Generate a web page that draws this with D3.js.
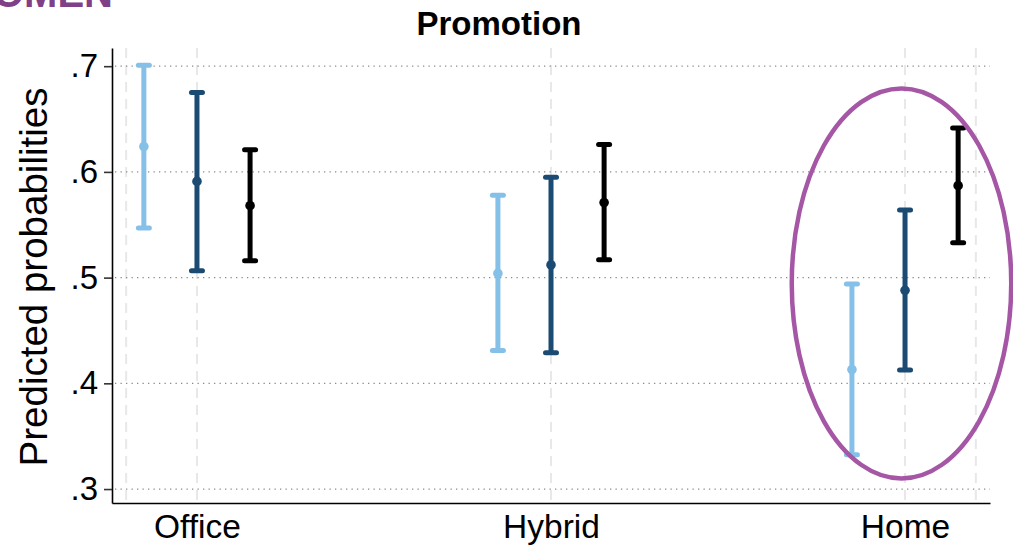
<!DOCTYPE html>
<html>
<head>
<meta charset="utf-8">
<script src="https://cdn.jsdelivr.net/npm/d3@7"></script>
<style>
  html, body { margin: 0; padding: 0; background: #fff; }
  svg { display: block; font-family: "Liberation Sans", Arial, Helvetica, sans-serif; }
</style>
</head>
<body>
<svg id="chart" width="1013" height="554"></svg>
<script>
// Work arrangement categories (x positions 1, 2, 3)
const categories = ["Office", "Hybrid", "Home"];
const categoryPos = [1, 2, 3];

// Predicted probabilities with confidence bounds, one array per group
const lightEst = [0.624, 0.504, 0.413];
const lightLo  = [0.547, 0.431, 0.3325];
const lightHi  = [0.701, 0.578, 0.494];

const darkEst = [0.591, 0.512, 0.488];
const darkLo  = [0.5065, 0.429, 0.4126];
const darkHi  = [0.675, 0.595, 0.564];

const blackEst = [0.568, 0.571, 0.587];
const blackLo  = [0.516, 0.517, 0.533];
const blackHi  = [0.621, 0.626, 0.6415];

// Y-axis tick values and vertical reference lines
const yTicks = [0.3, 0.4, 0.5, 0.6, 0.7];
const xGridVals = [0.8, 1, 2, 3, 3.2];

const series = [
  { est: lightEst, lo: lightLo, hi: lightHi, offset: -0.15, color: "#85c0e8" },
  { est: darkEst,  lo: darkLo,  hi: darkHi,  offset: 0,     color: "#1b4a72" },
  { est: blackEst, lo: blackLo, hi: blackHi, offset: 0.15,  color: "#000000" }
];

const svg = d3.select("#chart");

const x = d3.scaleLinear().domain([0.76, 3.24]).range([112, 990]);
const y = d3.scaleLinear().domain([0.2868, 0.7172]).range([503, 48]);

// Vertical dashed reference lines
svg.append("g").selectAll("line")
  .data(xGridVals).join("line")
  .attr("x1", d => x(d)).attr("x2", d => x(d))
  .attr("y1", y.range()[1]).attr("y2", y.range()[0])
  .attr("stroke", "#e8e8e8").attr("stroke-width", 2)
  .attr("stroke-dasharray", "10,7");

// Horizontal dotted gridlines
svg.append("g").selectAll("line")
  .data(yTicks).join("line")
  .attr("x1", 115).attr("x2", 990)
  .attr("y1", d => y(d)).attr("y2", d => y(d))
  .attr("stroke", "#8a8a8a").attr("stroke-width", 1.2)
  .attr("stroke-dasharray", "1.3,4.2");

// Y axis
const fmt = d => d3.format(".1f")(d).replace(/^0/, "");
const yAxis = svg.append("g")
  .attr("transform", `translate(${x.range()[0]},0)`)
  .call(d3.axisLeft(y).tickValues(yTicks).tickFormat(fmt).tickSize(8).tickSizeOuter(0).tickPadding(6));
yAxis.select(".domain").attr("stroke", "#000").attr("stroke-width", 1.6);
yAxis.selectAll(".tick line").attr("stroke", "#333").attr("stroke-width", 1.6);
yAxis.selectAll(".tick text")
  .attr("font-size", 33).attr("fill", "#000")
  .attr("font-family", "'Liberation Sans', Arial, sans-serif");

// X axis (labels only, no tick marks)
const xAxis = svg.append("g")
  .attr("transform", `translate(0,${y.range()[0]})`)
  .call(d3.axisBottom(x).tickValues(categoryPos).tickFormat((d, i) => categories[i]).tickSize(0).tickSizeOuter(0).tickPadding(11));
xAxis.select(".domain").attr("stroke", "#000").attr("stroke-width", 1.6);
xAxis.selectAll(".tick text")
  .attr("font-size", 33.5).attr("fill", "#000")
  .attr("font-family", "'Liberation Sans', Arial, sans-serif");

// Error bars with caps and point estimates
series.forEach(s => {
  const g = svg.append("g");
  const rows = categoryPos.map((c, i) => ({ cx: c + s.offset, est: s.est[i], lo: s.lo[i], hi: s.hi[i] }));
  g.selectAll("line.bar").data(rows).join("line").attr("class", "bar")
    .attr("x1", d => x(d.cx)).attr("x2", d => x(d.cx))
    .attr("y1", d => y(d.lo)).attr("y2", d => y(d.hi))
    .attr("stroke", s.color).attr("stroke-width", 5);
  ["lo", "hi"].forEach(k => {
    g.selectAll("line.cap-" + k).data(rows).join("line").attr("class", "cap-" + k)
      .attr("x1", d => x(d.cx) - 5.5).attr("x2", d => x(d.cx) + 5.5)
      .attr("y1", d => y(d[k])).attr("y2", d => y(d[k]))
      .attr("stroke", s.color).attr("stroke-width", 5).attr("stroke-linecap", "round");
  });
  g.selectAll("circle").data(rows).join("circle")
    .attr("cx", d => x(d.cx)).attr("cy", d => y(d.est)).attr("r", 4.8)
    .attr("fill", s.color);
});

// Highlight ellipse around the Home group
const ex0 = 2.68, ex1 = 3.3, ey0 = 0.31, ey1 = 0.679;
svg.append("ellipse")
  .attr("cx", (x(ex0) + x(ex1)) / 2)
  .attr("cy", (y(ey0) + y(ey1)) / 2)
  .attr("rx", (x(ex1) - x(ex0)) / 2)
  .attr("ry", (y(ey0) - y(ey1)) / 2)
  .attr("fill", "none").attr("stroke", "#a557a6").attr("stroke-width", 4.5);

// Panel title
svg.append("text")
  .attr("x", 499).attr("y", 35)
  .attr("text-anchor", "middle")
  .attr("font-size", 33).attr("font-weight", "bold")
  .text("Promotion");

// Y-axis title
svg.append("text")
  .attr("transform", "translate(47,277) rotate(-90)")
  .attr("text-anchor", "middle")
  .attr("font-size", 38.5)
  .text("Predicted probabilities");

// Group heading above the panel
svg.append("text")
  .attr("x", 113).attr("y", 7)
  .attr("text-anchor", "end")
  .attr("font-size", 40).attr("font-weight", "bold")
  .attr("fill", "#7f4087")
  .text("WOMEN");
</script>
</body>
</html>
